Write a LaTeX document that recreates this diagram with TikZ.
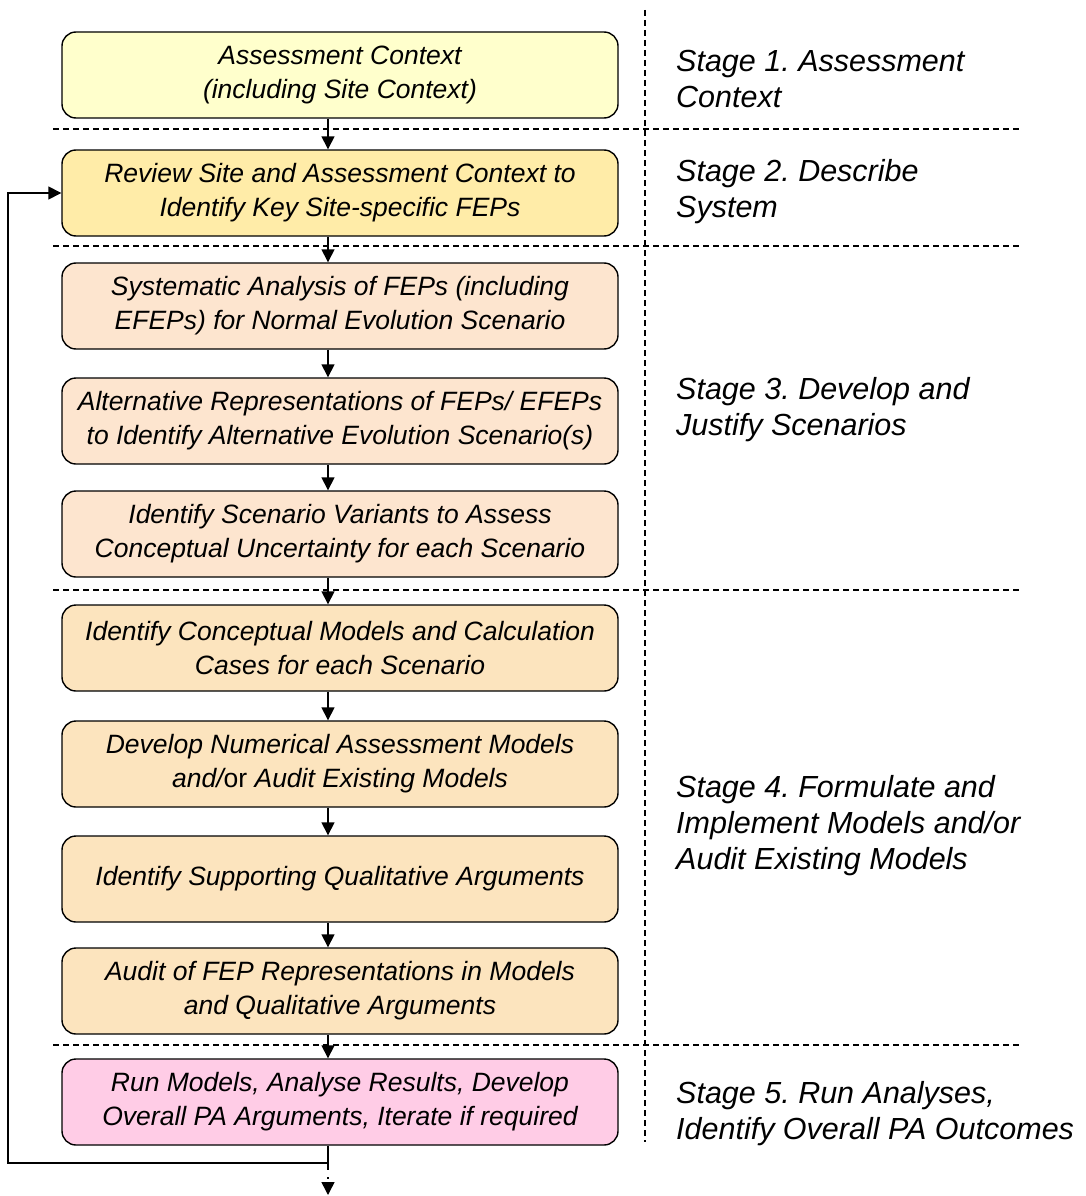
\documentclass[tikz,border=0pt]{standalone}
\usepackage{fontspec}
\setmainfont{Liberation Sans}
\frenchspacing
\usetikzlibrary{arrows.meta}
\definecolor{cA}{HTML}{FFFFCC}
\definecolor{cB}{HTML}{FFECA8}
\definecolor{cC}{HTML}{FDE5CF}
\definecolor{cD}{HTML}{FCE4BE}
\definecolor{cE}{HTML}{FFCCE6}
\begin{document}
\frenchspacing
\begin{tikzpicture}[x=1pt,y=-1pt,
  box/.style={draw, line width=1.4pt, rounded corners=14pt, minimum width=556pt,
    minimum height=86pt, inner sep=0pt, align=center,
    font=\fontsize{26.5}{34}\selectfont\itshape\frenchspacing},
  stagelbl/.style={anchor=west, inner sep=0pt, align=left,
    font=\fontsize{30.5}{36}\selectfont\itshape\frenchspacing},
  sep/.style={line width=1.3pt, dash pattern=on 6pt off 4pt},
  conn/.style={line width=1.5pt, -{Triangle[length=13pt,width=13pt]}}]
\useasboundingbox (0,0) rectangle (1085,1196);
% separators
\draw[sep] (645,10) -- (645,1142);
\draw[sep] (53,129) -- (1020,129);
\draw[sep] (53,246) -- (1020,246);
\draw[sep] (53,590) -- (1020,590);
\draw[sep] (53,1045) -- (1020,1045);
% boxes
\node[box, fill=cA] (b1) at (340,75) {Assessment Context\\(including Site Context)};
\node[box, fill=cB] (b2) at (340,193) {Review Site and Assessment Context to\\Identify Key Site-specific FEPs};
\node[box, fill=cC] (b3) at (340,306) {Systematic Analysis of FEPs (including\\EFEPs) for Normal Evolution Scenario};
\node[box, fill=cC] (b4) at (340,421) {Alternative Representations of FEPs/ EFEPs\\to Identify Alternative Evolution Scenario(s)};
\node[box, fill=cC] (b5) at (340,534) {Identify Scenario Variants to Assess\\Conceptual Uncertainty for each Scenario};
\node[box, fill=cD] (b6) at (340,648) {Identify Conceptual Models and Calculation\\Cases for each Scenario};
\node[box, fill=cD] (b7) at (340,764) {Develop Numerical Assessment Models\\and/{\upshape or} Audit Existing Models};
\node[box, fill=cD] (b8) at (340,879) {Identify Supporting Qualitative Arguments};
\node[box, fill=cD] (b9) at (340,991) {Audit of FEP Representations in Models\\and Qualitative Arguments};
\node[box, fill=cE] (b10) at (340,1102) {Run Models, Analyse Results, Develop\\Overall PA Arguments, Iterate if required};
% stage labels
\node[stagelbl] (s1) at (676,79) {Stage 1. Assessment\\Context};
\node[stagelbl] (s2) at (676,192) {Stage 2. Describe\\System};
\node[stagelbl] (s3) at (676,410) {Stage 3. Develop and\\Justify Scenarios};
\node[stagelbl] (s4) at (676,826) {Stage 4. Formulate and\\Implement Models and/or\\Audit Existing Models};
\node[stagelbl] (s5) at (676,1114) {Stage 5. Run Analyses,\\Identify Overall PA Outcomes};
% connectors
\coordinate (ax) at (328,0);
\coordinate (lx) at (8,0);
\coordinate (j) at (328,1163);
\coordinate (out) at (328,1195);
\foreach \a/\b in {b1/b2,b2/b3,b3/b4,b4/b5,b5/b6,b6/b7,b7/b8,b8/b9,b9/b10}
  \draw[conn] (\a.south -| ax) -- (\b.north -| ax);
\draw[conn] (b10.south -| ax) -- (j) -- (j -| lx) -- (lx |- b2.west) -- (b2.west);
\draw[conn, dash pattern=on 7pt off 7pt on 2pt off 40pt] (j) -- (out);
\end{tikzpicture}
\end{document}
